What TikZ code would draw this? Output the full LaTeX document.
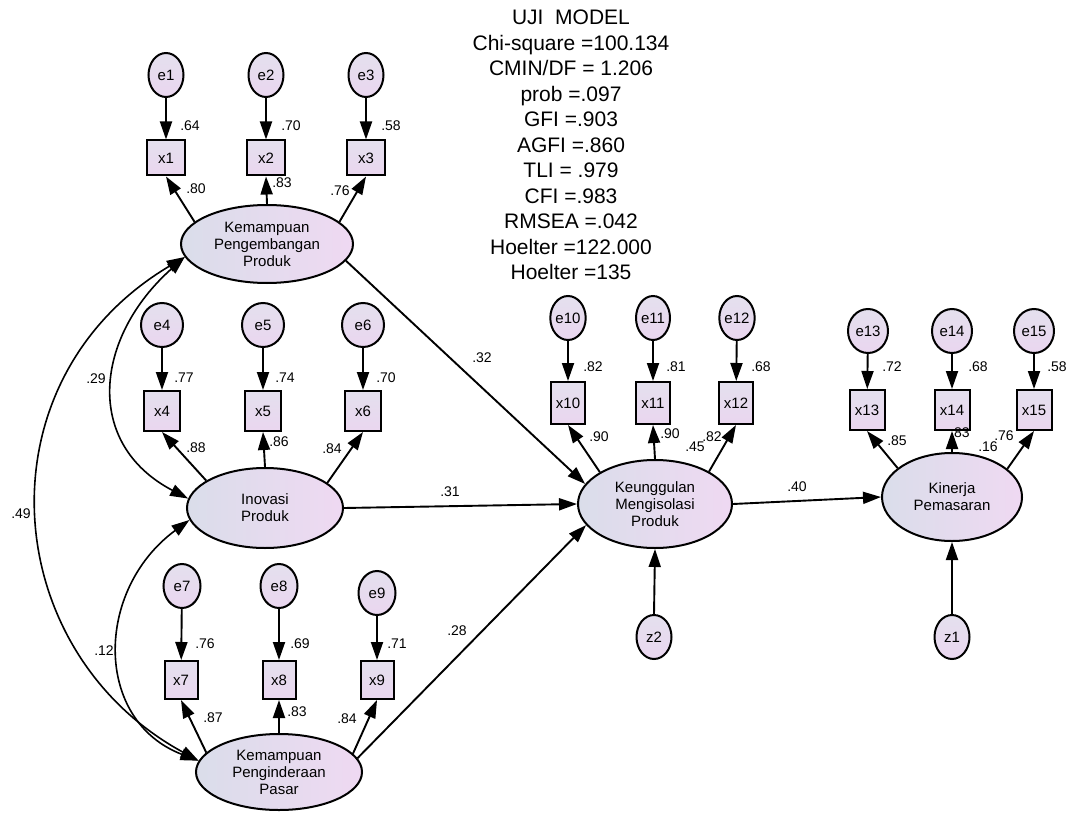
\documentclass[tikz,border=0pt]{standalone}
\usepackage{fontspec}
\setmainfont{Liberation Sans}
\usepackage{tikz}
\usetikzlibrary{shapes.geometric,arrows.meta}
\definecolor{latL}{HTML}{DADDEA}
\definecolor{latR}{HTML}{EFD9F2}
\definecolor{indT}{HTML}{E4E0EE}
\definecolor{indB}{HTML}{EAD6EF}

\begin{document}
\begin{tikzpicture}[x=1pt, y=-1pt, latent/.style={ellipse,draw,line width=2pt,left color=latL,right color=latR,align=center,inner sep=0pt,font=\fontsize{15}{17}\selectfont}, err/.style={ellipse,draw,line width=2pt,top color=indT,bottom color=indB,minimum width=37pt,minimum height=44pt,inner sep=0pt,font=\fontsize{15}{15}\selectfont}, ind/.style={rectangle,draw,line width=2pt,top color=indT,bottom color=indB,minimum width=36pt,minimum height=38pt,inner sep=0pt,font=\fontsize{15}{15}\selectfont}, coef/.style={inner sep=0pt,font=\fontsize{14}{14}\selectfont}, arrow/.style={-{Triangle[length=18pt,width=12pt]},line width=1.9pt}, cov/.style={{Triangle[length=18pt,width=12pt]}-{Triangle[length=18pt,width=12pt]},line width=1.6pt}]
    \useasboundingbox[fill=white] (0,0) rectangle (1067,813);
    % model fit
    \node[align=center,inner sep=0pt,font=\fontsize{21}{25.5}\selectfont] (fit) at (571,145) {UJI\ \ MODEL\\Chi-square =100.134\\CMIN/DF = 1.206\\prob =.097\\GFI =.903\\AGFI =.860\\TLI = .979\\CFI =.983\\RMSEA =.042\\Hoelter =122.000\\Hoelter =135};
    % latent variables
    \node[latent,minimum width=172pt,minimum height=78pt] (kpp) at (267,244) {Kemampuan\\Pengembangan\\Produk};
    \node[latent,minimum width=156pt,minimum height=80pt] (ino) at (265,508) {Inovasi\\Produk};
    \node[latent,minimum width=166pt,minimum height=76pt] (pasar) at (279,772) {Kemampuan\\Penginderaan\\Pasar};
    \node[latent,minimum width=154pt,minimum height=88pt] (kmp) at (655,504) {Keunggulan\\Mengisolasi\\Produk};
    \node[latent,minimum width=140pt,minimum height=88pt] (kin) at (952,497) {Kinerja\\Pemasaran};
    % indicators
    \node[ind,minimum width=38pt,minimum height=35pt] (x1) at (166,158) {x1};
    \node[ind,minimum width=38pt,minimum height=35pt] (x2) at (266,158) {x2};
    \node[ind,minimum width=38pt,minimum height=35pt] (x3) at (366,158) {x3};
    \node[ind,minimum height=40pt] (x4) at (162,411) {x4};
    \node[ind,minimum height=40pt] (x5) at (263,411) {x5};
    \node[ind,minimum height=40pt] (x6) at (363,411) {x6};
    \node[ind,minimum width=33pt] (x7) at (181,680) {x7};
    \node[ind,minimum width=33pt] (x8) at (279,680) {x8};
    \node[ind,minimum width=33pt] (x9) at (377,680) {x9};
    \node[ind,minimum width=34pt,minimum height=42pt] (x10) at (568,403) {x10};
    \node[ind,minimum width=34pt,minimum height=42pt] (x11) at (653,403) {x11};
    \node[ind,minimum width=34pt,minimum height=42pt] (x12) at (736,403) {x12};
    \node[ind,minimum width=35pt,minimum height=40pt] (x13) at (867,410) {x13};
    \node[ind,minimum width=35pt,minimum height=40pt] (x14) at (952,410) {x14};
    \node[ind,minimum width=35pt,minimum height=40pt] (x15) at (1034,410) {x15};
    % errors
    \node[err,minimum width=35pt] (e1) at (166,75) {e1};
    \node[err,minimum width=35pt] (e2) at (266,75) {e2};
    \node[err,minimum width=35pt] (e3) at (366,75) {e3};
    \node[err,minimum width=42pt] (e4) at (162,325) {e4};
    \node[err,minimum width=42pt] (e5) at (263,325) {e5};
    \node[err,minimum width=42pt] (e6) at (363,325) {e6};
    \node[err] (e7) at (182,586) {e7};
    \node[err] (e8) at (279,586) {e8};
    \node[err] (e9) at (377,593) {e9};
    \node[err,minimum width=34pt] (e10) at (568,318) {e10};
    \node[err,minimum width=34pt] (e11) at (653,318) {e11};
    \node[err,minimum width=34pt] (e12) at (737,318) {e12};
    \node[err,minimum width=40pt] (e13) at (868,331) {e13};
    \node[err,minimum width=40pt] (e14) at (952,331) {e14};
    \node[err,minimum width=40pt] (e15) at (1034,331) {e15};
    \node[err,minimum width=35pt] (z2) at (654,637) {z2};
    \node[err,minimum width=35pt] (z1) at (952,637) {z1};
    % error paths
    \draw[arrow] (e1) -- (x1);
    \draw[arrow] (e2) -- (x2);
    \draw[arrow] (e3) -- (x3);
    \draw[arrow] (e4) -- (x4);
    \draw[arrow] (e5) -- (x5);
    \draw[arrow] (e6) -- (x6);
    \draw[arrow] (e7) -- (x7);
    \draw[arrow] (e8) -- (x8);
    \draw[arrow] (e9) -- (x9);
    \draw[arrow] (e10) -- (x10);
    \draw[arrow] (e11) -- (x11);
    \draw[arrow] (e12) -- (x12);
    \draw[arrow] (e13) -- (x13);
    \draw[arrow] (e14) -- (x14);
    \draw[arrow] (e15) -- (x15);
    % loadings
    \draw[arrow] (kpp.163) -- (x1.south);
    \draw[arrow] (kpp.north) -- (x2.south);
    \draw[arrow] (kpp.17) -- (x3.south);
    \draw[arrow] (ino.155) -- (x4.south);
    \draw[arrow] (ino.north) -- (x5.south);
    \draw[arrow] (ino.22) -- (x6.south);
    \draw[arrow] (pasar.165) -- (x7.south);
    \draw[arrow] (pasar.north) -- (x8.south);
    \draw[arrow] (pasar.14) -- (x9.south);
    \draw[arrow] (kmp.150) -- (x10.south);
    \draw[arrow] (kmp.north) -- (x11.south);
    \draw[arrow] (kmp.31) -- (x12.south);
    \draw[arrow] (kin.152) -- (x13.south);
    \draw[arrow] (kin.north) -- (x14.south);
    \draw[arrow] (kin.27) -- (x15.south);
    % structural paths
    \draw[arrow] (kpp.-12) -- (kmp.164);
    \draw[arrow] (ino.east) -- (kmp.west);
    \draw[arrow] (pasar.10) -- (kmp.197);
    \draw[arrow] (kmp.east) -- (kin.west);
    \draw[arrow] (z2.north) -- (kmp.south);
    \draw[arrow] (z1.north) -- (kin.south);
    % covariances
    \draw[cov] (kpp.189) .. controls +(-90,80) and +(-105,-55) .. (ino.173);
    \draw[cov] (kpp.189) .. controls +(-207,123) and +(-202,-110) .. (pasar.172);
    \draw[cov] (ino.189) .. controls +(-95,70) and +(-105,-40) .. (pasar.172);
    % estimates
    \node[coef] (r1) at (190,126) {.64};
    \node[coef] (r2) at (291,126) {.70};
    \node[coef] (r3) at (391,126) {.58};
    \node[coef] (l1) at (196,189) {.80};
    \node[coef] (l2) at (282,183) {.83};
    \node[coef] (l3) at (340,191) {.76};
    \node[coef] (r4) at (184,378) {.77};
    \node[coef] (r5) at (285,378) {.74};
    \node[coef] (r6) at (386,378) {.70};
    \node[coef] (l4) at (196,448) {.88};
    \node[coef] (l5) at (279,442) {.86};
    \node[coef] (l6) at (332,449) {.84};
    \node[coef] (r7) at (205,644) {.76};
    \node[coef] (r8) at (300,644) {.69};
    \node[coef] (r9) at (397,644) {.71};
    \node[coef] (l7) at (213,718) {.87};
    \node[coef] (l8) at (297,712) {.83};
    \node[coef] (l9) at (347,719) {.84};
    \node[coef] (r10) at (593,367) {.82};
    \node[coef] (r11) at (676,367) {.81};
    \node[coef] (r12) at (761,367) {.68};
    \node[coef] (l10) at (599,437) {.90};
    \node[coef] (l11) at (670,434) {.90};
    \node[coef] (rk) at (695,447) {.45};
    \node[coef] (l12) at (712,437) {.82};
    \node[coef] (r13) at (892,367) {.72};
    \node[coef] (r14) at (978,367) {.68};
    \node[coef] (r15) at (1057,367) {.58};
    \node[coef] (l13) at (897,441) {.85};
    \node[coef] (l14) at (960,433) {.83};
    \node[coef] (rp) at (988,447) {.16};
    \node[coef] (l15) at (1004,436) {.76};
    \node[coef] (c29) at (96,379) {.29};
    \node[coef] (c49) at (21,514) {.49};
    \node[coef] (c12) at (104,651) {.12};
    \node[coef] (b32) at (482,358) {.32};
    \node[coef] (b31) at (450,492) {.31};
    \node[coef] (b28) at (457,631) {.28};
    \node[coef] (b40) at (797,487) {.40};
  \end{tikzpicture}
\end{document}
